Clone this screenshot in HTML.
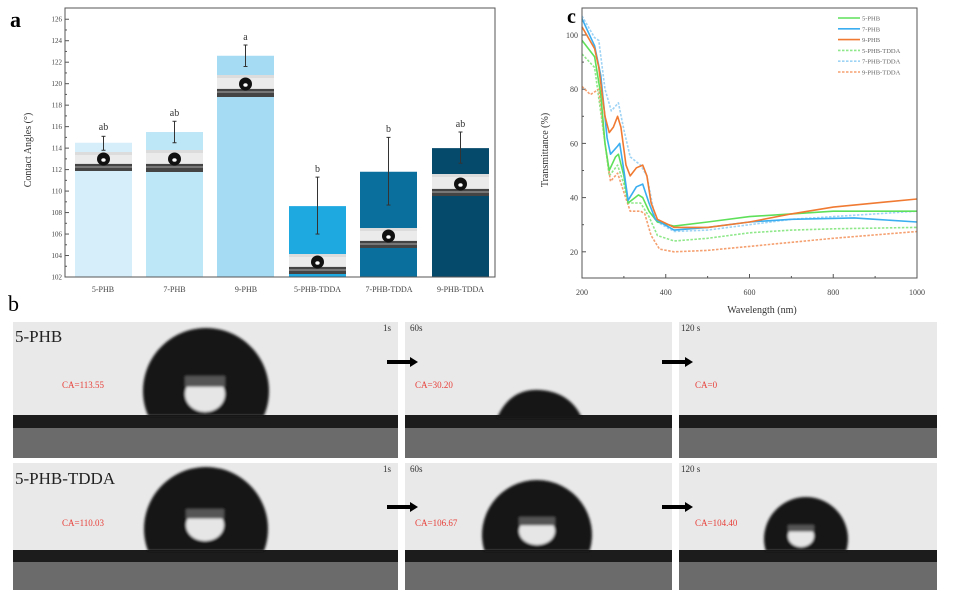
<!DOCTYPE html>
<html><head><meta charset="utf-8"><style>
html,body{margin:0;padding:0;background:#fff;}
svg{display:block;font-family:"Liberation Serif",serif;}
</style></head><body>
<svg id="s" width="955" height="600" viewBox="0 0 955 600" xmlns="http://www.w3.org/2000/svg">
<defs>
<filter id="bl" x="-10%" y="-10%" width="120%" height="120%"><feGaussianBlur stdDeviation="1.2"/></filter>
<filter id="bl2"><feGaussianBlur stdDeviation="0.5"/></filter>
</defs>
<!-- panel letters -->
<text x="10" y="27" font-size="22" font-weight="bold">a</text>
<text x="8" y="311" font-size="22">b</text>
<text x="567" y="23" font-size="20" font-weight="bold">c</text>

<!-- Panel a -->
<g id="pa"></g>
<rect x="65" y="8" width="430" height="269" fill="none" stroke="#555" stroke-width="1"/>
<text transform="translate(31,150) rotate(-90)" text-anchor="middle" font-size="10" fill="#333">Contact Angles (°)</text>
<g font-size="8" fill="#444" text-anchor="middle">
<text x="103" y="292">5-PHB</text><text x="174.5" y="292">7-PHB</text><text x="246" y="292">9-PHB</text>
<text x="317.5" y="292">5-PHB-TDDA</text><text x="389" y="292">7-PHB-TDDA</text><text x="460.5" y="292">9-PHB-TDDA</text>
</g>

<!-- Panel c -->
<g id="pc"></g>
<rect x="582" y="8" width="335" height="270" fill="none" stroke="#555" stroke-width="1"/>
<text transform="translate(548,150) rotate(-90)" text-anchor="middle" font-size="10" fill="#333">Transmittance (%)</text>
<text x="762" y="313" text-anchor="middle" font-size="10" fill="#333">Wavelength (nm)</text>

<!-- Panel b -->
<g id="pb"></g>
</svg>
<script>
var NS="http://www.w3.org/2000/svg";
function el(p,t,a,txt){var e=document.createElementNS(NS,t);for(var k in a)e.setAttribute(k,a[k]);if(txt!==undefined)e.textContent=txt;p.appendChild(e);return e;}
// ---------- Panel a
var pa=document.getElementById('pa');
function ya(v){return 277-(v-102)*10.74;}
for(var v=102;v<=126;v+=2){var y=ya(v);el(pa,'line',{x1:65,x2:69,y1:y,y2:y,stroke:'#555'});el(pa,'text',{x:62,y:y+2.5,'font-size':7,'text-anchor':'end',fill:'#444'},v);}
for(var v=103;v<126;v+=2){var y=ya(v);el(pa,'line',{x1:65,x2:67,y1:y,y2:y,stroke:'#555'});}
var bars=[
 {x:75,t:114.5,c:'#d6eefa',e:[113.8,115.1],l:'ab',ly:130,ins:[152,164,171]},
 {x:146,t:115.5,c:'#bde6f6',e:[114.5,116.5],l:'ab',ly:116,ins:[150,164,172]},
 {x:217,t:122.6,c:'#a5dcf4',e:[121.6,123.6],l:'a',ly:40,ins:[75,89,97]},
 {x:289,t:108.6,c:'#1fa9e1',e:[106,111.3],l:'b',ly:172,ins:[254,267,274]},
 {x:360,t:111.8,c:'#0a6f9c',e:[108.7,115],l:'b',ly:132,ins:[228,241,248]},
 {x:432,t:114.0,c:'#064a6b',e:[112.6,115.5],l:'ab',ly:127,ins:[174,189,196]}];
bars.forEach(function(b){var w=57,cx=b.x+w/2,yt=ya(b.t);
 el(pa,'rect',{x:b.x,y:yt,width:w,height:277-yt,fill:b.c});
 el(pa,'rect',{x:b.x,y:b.ins[0],width:w,height:b.ins[1]-b.ins[0],fill:'#dcdcdc'});
 el(pa,'rect',{x:b.x,y:b.ins[0]+3,width:w,height:b.ins[1]-b.ins[0]-4,fill:'#ebebeb'});
 el(pa,'rect',{x:b.x,y:b.ins[1],width:w,height:b.ins[2]-b.ins[1],fill:'#444'});
 el(pa,'rect',{x:b.x,y:b.ins[1]+2,width:w,height:2,fill:'#777'});
 el(pa,'circle',{cx:cx,cy:b.ins[1]-5,r:6.5,fill:'#111'});
 el(pa,'ellipse',{cx:cx,cy:b.ins[1]-4,rx:2.2,ry:1.8,fill:'#fff'});
 var y1=ya(b.e[0]),y2=ya(b.e[1]);
 el(pa,'line',{x1:cx,x2:cx,y1:y1,y2:y2,stroke:'#333','stroke-width':1});
 el(pa,'line',{x1:cx-2,x2:cx+2,y1:y1,y2:y1,stroke:'#333'});
 el(pa,'line',{x1:cx-2,x2:cx+2,y1:y2,y2:y2,stroke:'#333'});
 el(pa,'text',{x:cx,y:b.ly,'font-size':10,'text-anchor':'middle',fill:'#333'},b.l);
});
// ---------- Panel c
var pc=document.getElementById('pc');
function xc(w){return 582+(w-200)*0.41875;} function yc(t){return 306-2.71*t;}
[20,40,60,80,100].forEach(function(t){var y=yc(t);el(pc,'line',{x1:582,x2:586,y1:y,y2:y,stroke:'#555'});el(pc,'text',{x:578,y:y+3,'font-size':8,'text-anchor':'end',fill:'#444'},t);});
[30,50,70,90].forEach(function(t){var y=yc(t);el(pc,'line',{x1:582,x2:584,y1:y,y2:y,stroke:'#555'});});
[200,400,600,800,1000].forEach(function(w){var x=xc(w);el(pc,'line',{x1:x,x2:x,y1:278,y2:274,stroke:'#555'});el(pc,'text',{x:x,y:295,'font-size':8,'text-anchor':'middle',fill:'#444'},w);});
[300,500,700,900].forEach(function(w){var x=xc(w);el(pc,'line',{x1:x,x2:x,y1:278,y2:276,stroke:'#555'});});
var G='#5fe05a',B='#3aaef0',O='#f07a32';
var curves=[
 {c:'#8fe88a',d:1,p:[[200,93],[230,88],[255,60],[265,48],[285,52],[300,45],[310,38],[340,38],[360,33],[380,26],[420,24],[500,25],[600,27],[700,28],[800,28.5],[1000,29]]},
 {c:'#9ed3f5',d:1,p:[[200,107],[230,99],[240,98],[255,80],[270,72],[287,75],[300,65],[315,55],[340,52],[355,48],[370,36],[380,31],[420,27.5],[500,28],[600,30],[700,32],[800,33],[1000,35]]},
 {c:'#f5a070',d:1,p:[[200,81],[220,78],[240,80],[255,60],[268,46],[285,49],[300,42],[315,35],[340,35],[350,34],[365,26],[385,21],[420,20],[500,20.5],[600,22],[700,23.5],[800,25],[1000,27.5]]},
 {c:G,p:[[200,98],[230,92],[245,78],[255,60],[265,50],[280,55],[287,56],[300,48],[310,38],[335,41],[345,40],[360,35],[380,31],[420,29.5],[500,31],[600,33],[700,34],[800,35],[1000,35]]},
 {c:B,p:[[200,106],[230,96],[245,85],[260,62],[268,56],[285,59],[290,60],[300,50],[310,39],[330,44],[345,45],[360,38],[375,32],[420,28],[500,29],[600,31],[700,32],[850,32.5],[900,32],[1000,31]]},
 {c:O,p:[[200,103],[230,95],[240,88],[255,70],[265,64],[275,66],[285,70],[293,66],[305,52],[315,48],[330,51],[345,52],[355,48],[365,38],[380,32],[420,29],[500,29],[600,31],[700,34],[800,36.5],[1000,39.5]]}];
curves.forEach(function(c){var pts=c.p.map(function(q){return xc(q[0]).toFixed(1)+','+yc(q[1]).toFixed(1);}).join(' ');
 var a={points:pts,fill:'none',stroke:c.c,'stroke-width':1.6,'stroke-linejoin':'round'};if(c.d)a['stroke-dasharray']='2.5,1.5';el(pc,'polyline',a);});
var leg=[['5-PHB',G,0],['7-PHB',B,0],['9-PHB',O,0],['5-PHB-TDDA','#8fe88a',1],['7-PHB-TDDA','#9ed3f5',1],['9-PHB-TDDA','#f5a070',1]];
leg.forEach(function(l,i){var y=18+i*10.8;var a={x1:838,x2:860,y1:y,y2:y,stroke:l[1],'stroke-width':1.6};if(l[2])a['stroke-dasharray']='2.5,1.5';el(pc,'line',a);el(pc,'text',{x:862,y:y+2.5,'font-size':6.5,fill:'#666'},l[0]);});
// ---------- Panel b
var pb=document.getElementById('pb');
var cols=[[13,398],[405,672],[679,937]];
var rows=[{t:322,b:458,band:[415,428]},{t:463,b:590,band:[550,562]}];
rows.forEach(function(r,ri){cols.forEach(function(c,ci){
 var w=c[1]-c[0];
 el(pb,'rect',{x:c[0],y:r.t,width:w,height:r.b-r.t,fill:'#e9e9e9'});
 el(pb,'rect',{x:c[0],y:r.band[1],width:w,height:r.b-r.band[1],fill:'#6b6b6b'});
 el(pb,'rect',{x:c[0],y:r.band[0],width:w,height:r.band[1]-r.band[0],fill:'#1c1c1c'});
});});
// drops (clip to each panel above band)
function drop(cx,cy,r,ix,iy,iw,ih,base){
 var g=el(pb,'g',{filter:'url(#bl)'});
 el(g,'path',{d:'M'+(cx-Math.sqrt(Math.max(r*r-(base-cy)*(base-cy),0)))+','+base+' A'+r+','+r+' 0 1 1 '+(cx+Math.sqrt(Math.max(r*r-(base-cy)*(base-cy),0)))+','+base+' Z',fill:'#151515'});
 el(g,'ellipse',{cx:ix,cy:iy,rx:iw,ry:ih,fill:'#e6e6e6'});
 el(g,'rect',{x:ix-iw,y:iy-ih,width:2*iw,height:ih*0.6,fill:'#555'});
}
drop(206,391,63,205,394,20,18,416);
drop(206,529,62,205,525,19,16,551);
drop(537,535,55,537,531,18,14,551);
drop(806,539,42,801,536,13,11,551);
// cap top col2
var g2=el(pb,'g',{filter:'url(#bl)'});
el(g2,'path',{d:'M497,418 Q510,388 540,390 Q570,392 582,418 Z',fill:'#151515'});
// text
el(pb,'text',{x:15,y:342,'font-size':17,fill:'#222'},'5-PHB');
el(pb,'text',{x:15,y:484,'font-size':17,fill:'#222'},'5-PHB-TDDA');
[[383,331,'1s'],[410,331,'60s'],[681,331,'120 s'],[383,472,'1s'],[410,472,'60s'],[681,472,'120 s']].forEach(function(t){el(pb,'text',{x:t[0],y:t[1],'font-size':9,fill:'#333'},t[2]);});
[[62,388,'CA=113.55'],[415,388,'CA=30.20'],[695,388,'CA=0'],[62,526,'CA=110.03'],[415,526,'CA=106.67'],[695,526,'CA=104.40']].forEach(function(t){el(pb,'text',{x:t[0],y:t[1],'font-size':9,fill:'#e8403a'},t[2]);});
// arrows
[[387,362],[662,362],[387,507],[662,507]].forEach(function(a){el(pb,'rect',{x:a[0],y:a[1]-2,width:24,height:4,fill:'#000'});el(pb,'polygon',{points:(a[0]+23)+','+(a[1]-5)+' '+(a[0]+31)+','+a[1]+' '+(a[0]+23)+','+(a[1]+5),fill:'#000'});});
</script>
</body></html>
